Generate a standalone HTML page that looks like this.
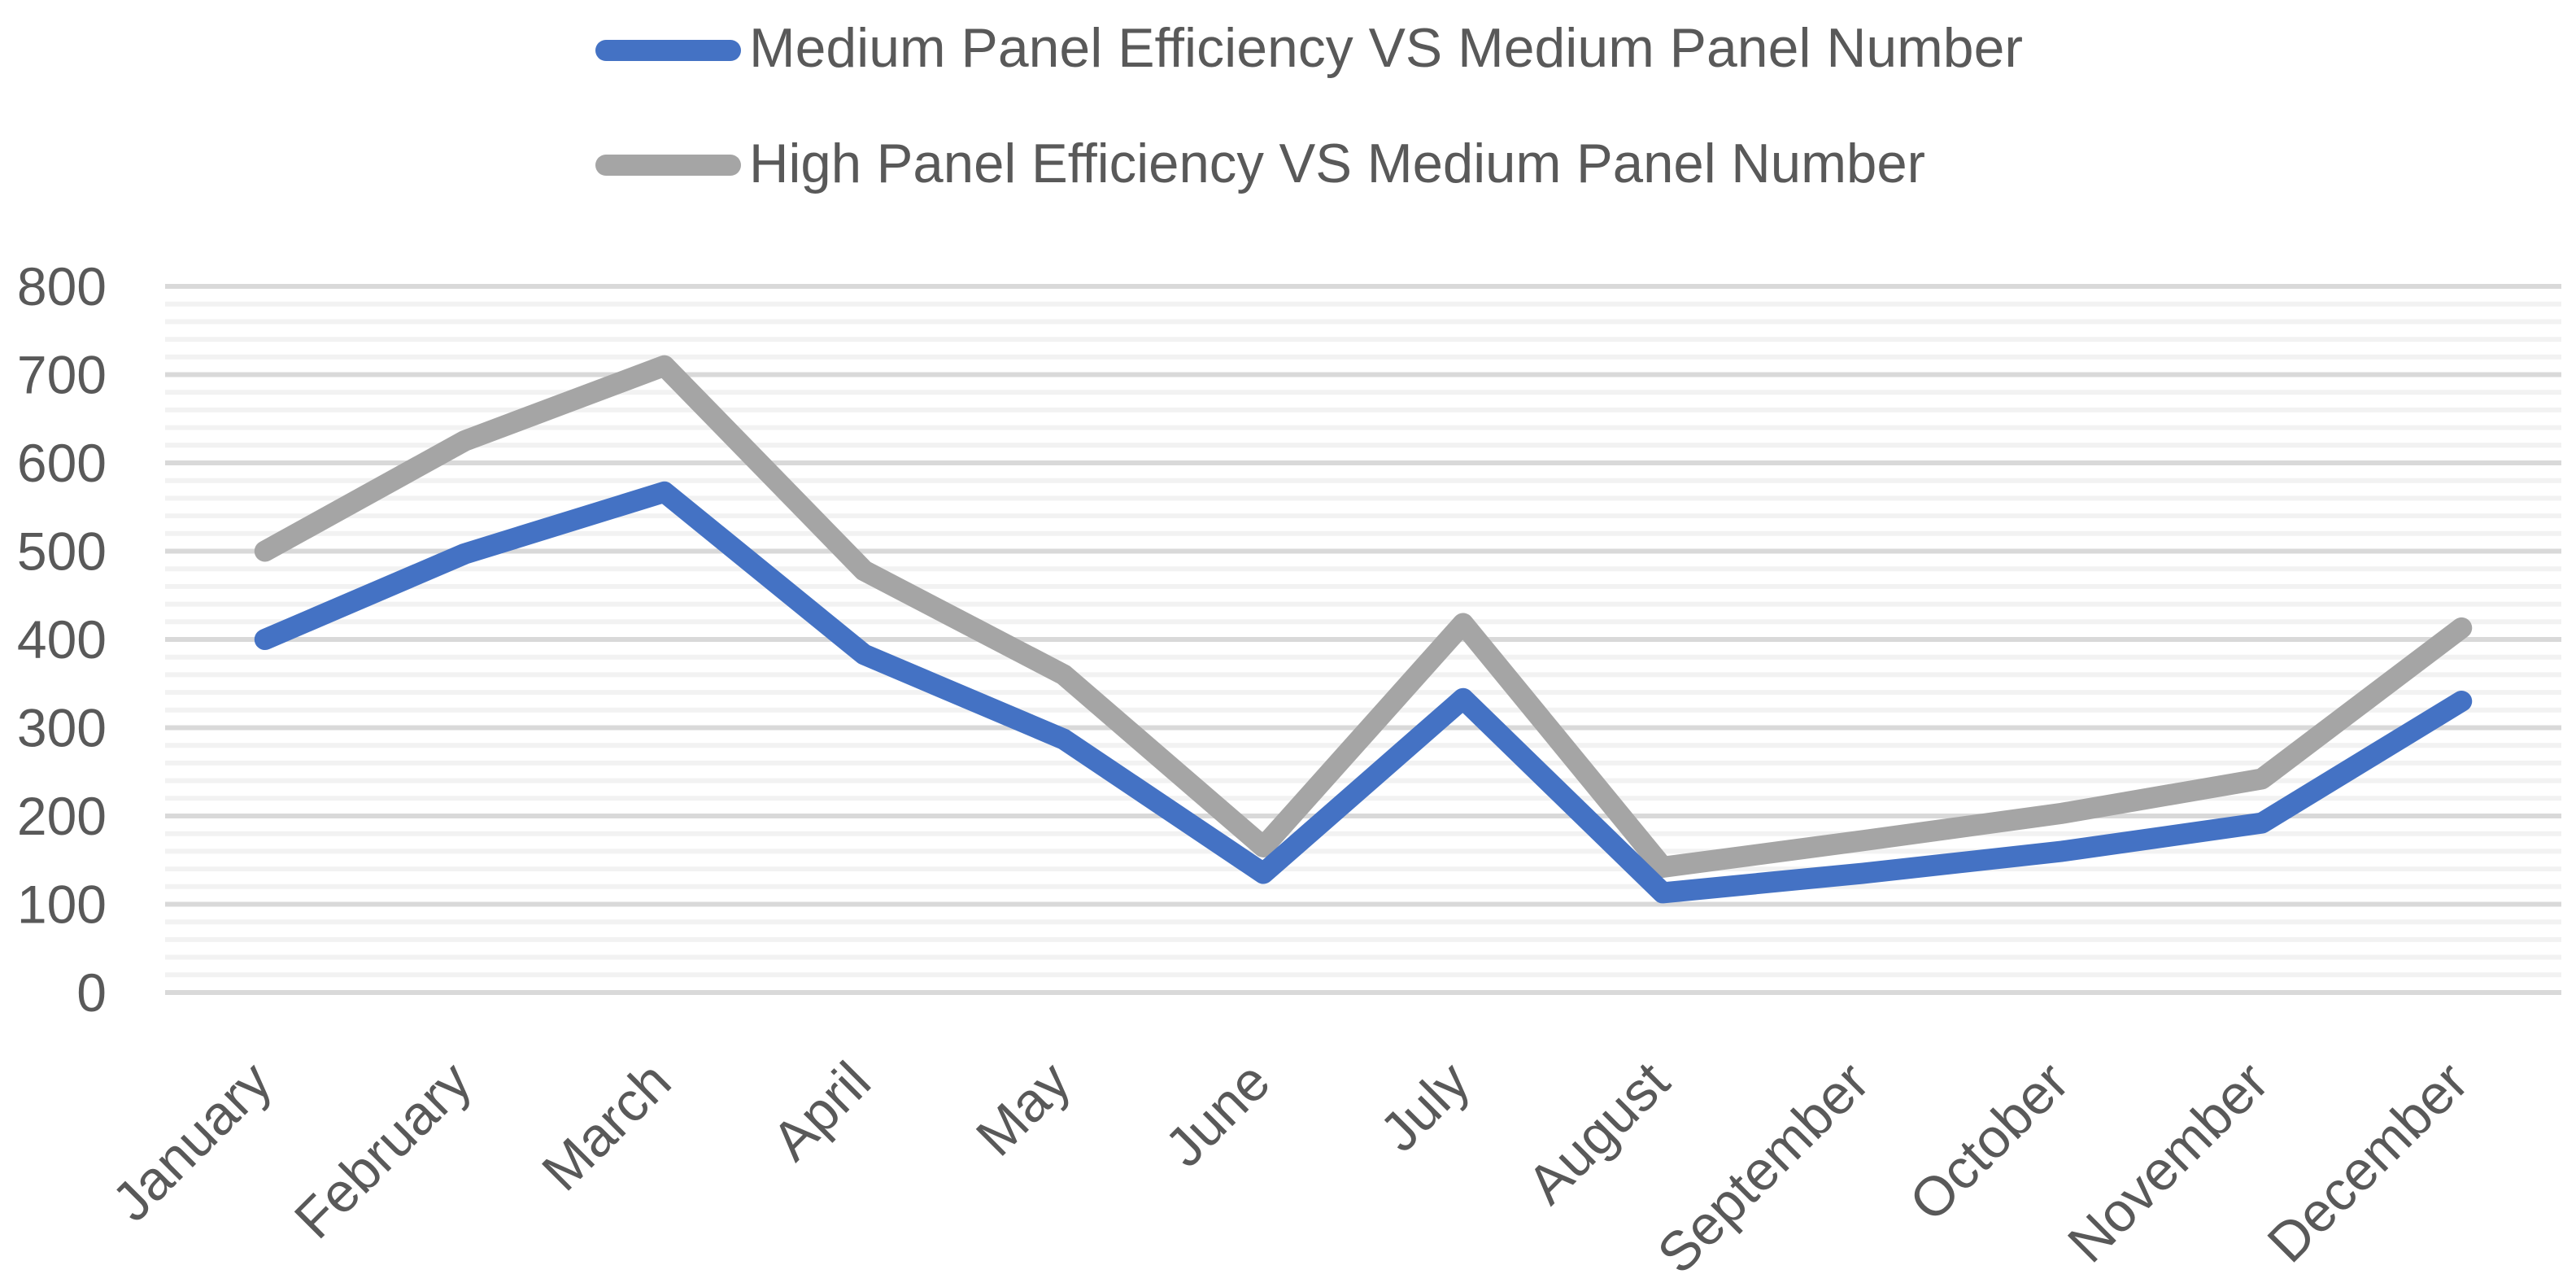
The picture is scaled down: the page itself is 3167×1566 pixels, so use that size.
<!DOCTYPE html>
<html><head><meta charset="utf-8"><style>
html,body{margin:0;padding:0;background:#fff;width:3167px;height:1566px;overflow:hidden}
svg text{font-family:"Liberation Sans",sans-serif;fill:#595959}
</style></head><body>
<svg id="chart" width="3167" height="1566" viewBox="0 0 3167 1566" xmlns="http://www.w3.org/2000/svg">
<g id="grid"></g>
<g id="yaxis"></g>
<g id="xaxis"></g>
<g id="series"></g>
<g id="legend">
  <line x1="745" y1="62" x2="898" y2="62" stroke="#4472C4" stroke-width="26" stroke-linecap="round"/>
  <text x="921" y="82" font-size="68" textLength="1566" lengthAdjust="spacingAndGlyphs">Medium Panel Efficiency VS Medium Panel Number</text>
  <line x1="745" y1="203" x2="898" y2="203" stroke="#A5A5A5" stroke-width="26" stroke-linecap="round"/>
  <text x="921" y="224" font-size="68" textLength="1446" lengthAdjust="spacingAndGlyphs">High Panel Efficiency VS Medium Panel Number</text>
</g>
</svg>
<script>
const categories = ["January","February","March","April","May","June","July","August","September","October","November","December"];
const mediumValues = [400, 497, 567, 383, 287, 135, 333, 113, 135, 160, 192, 330];
const highValues = [500, 625, 710, 478, 360, 165, 418, 142, 172, 203, 242, 413];
const yTicks = [0, 100, 200, 300, 400, 500, 600, 700, 800];

const NS = "http://www.w3.org/2000/svg";
const plotL = 203, plotR = 3149, y0 = 1220, y800 = 352;
const yMax = 800;
function yScale(v){ return y0 - (v / yMax) * (y0 - y800); }
function xScale(i){ const step = (plotR - plotL) / categories.length; return plotL + step * (i + 0.5); }
function mk(tag, attrs){ const e = document.createElementNS(NS, tag); for (const k in attrs) e.setAttribute(k, attrs[k]); return e; }

const grid = document.getElementById('grid');
for (let v = 0; v <= yMax; v += 20) {
  const major = v % 100 === 0;
  const l = mk('line', {x1: plotL, x2: plotR, y1: yScale(v), y2: yScale(v), stroke: major ? '#D9D9D9' : '#F2F2F2', 'stroke-width': 6});
  
  
  grid.appendChild(l);
}
const yaxis = document.getElementById('yaxis');
yTicks.forEach(v => {
  const t = mk('text', {x: 131, y: yScale(v) + 23, 'font-size': 66, 'text-anchor': 'end'});
  t.textContent = v;
  
  
  yaxis.appendChild(t);
});
const xaxis = document.getElementById('xaxis');
categories.forEach((c, i) => {
  const x = xScale(i) + 12, y = 1334;
  const t = mk('text', {x: x, y: y, 'font-size': 68, 'text-anchor': 'end', transform: `rotate(-45 ${x} ${y})`});
  t.textContent = c;
  
  
  xaxis.appendChild(t);
});
const series = document.getElementById('series');
function drawLine(vals, color, name){
  const pts = vals.map((v, i) => xScale(i) + ',' + yScale(v)).join(' ');
  const p = mk('polyline', {points: pts, fill: 'none', stroke: color, 'stroke-width': 26, 'stroke-linecap': 'round', 'stroke-linejoin': 'round'});
  
  
  series.appendChild(p);
}
drawLine(highValues, '#A5A5A5', 'high-efficiency-line');
drawLine(mediumValues, '#4472C4', 'medium-efficiency-line');
</script>
</body></html>
